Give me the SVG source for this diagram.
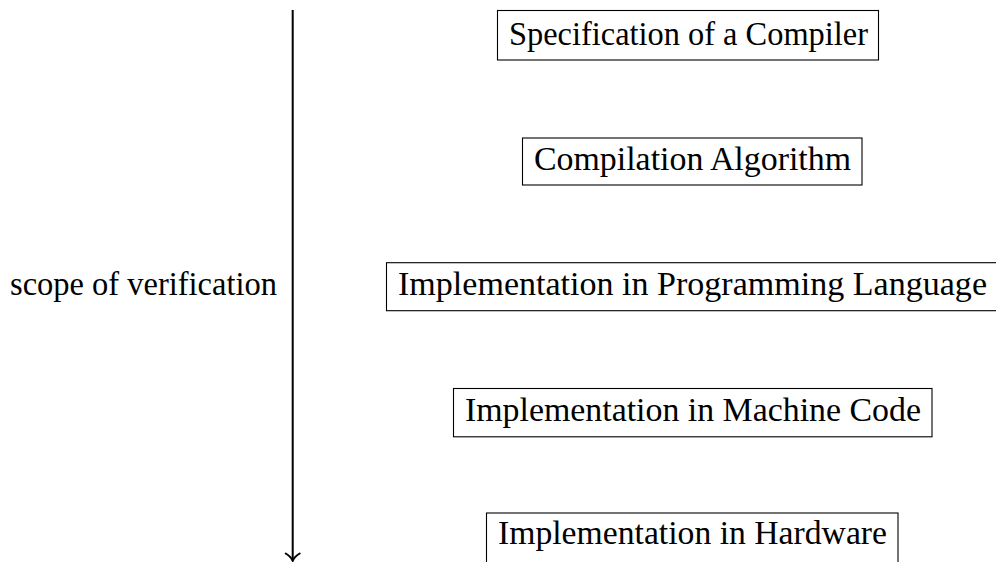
<svg xmlns="http://www.w3.org/2000/svg" width="996" height="562" viewBox="0 0 996 562">
  <style>
    .box { fill: #ffffff; stroke: #000000; stroke-width: 1.1; }
    .lbl { font-family: "Liberation Serif", "Times New Roman", Times, serif; font-size: 33px; fill: #000000; }
    .axis { fill: none; stroke: #000000; stroke-width: 2; }
  </style>
  <rect width="996" height="562" fill="#ffffff"/>

  <!-- vertical scope axis with arrow -->
  <g id="connectors">
    <line class="axis" x1="292.7" y1="10" x2="292.7" y2="560"/>
    <path class="axis" stroke-width="1.6" stroke-linecap="round" d="M285.7,553.5 Q291,556.5 292.7,561 M299.7,553.5 Q294.4,556.5 292.7,561"/>
  </g>

  <g id="scope-label">
    <text class="lbl" x="10" y="295" textLength="267" lengthAdjust="spacingAndGlyphs">scope of verification</text>
  </g>

  <g id="spec">
    <rect class="box" x="497.5" y="10.5" width="381" height="49.5"/>
    <text class="lbl" x="509" y="44.5" textLength="359" lengthAdjust="spacingAndGlyphs">Specification of a Compiler</text>
  </g>

  <g id="algorithm">
    <rect class="box" x="522.5" y="138" width="339.5" height="47"/>
    <text class="lbl" x="534" y="169.5" textLength="317" lengthAdjust="spacingAndGlyphs">Compilation Algorithm</text>
  </g>

  <g id="prog-lang">
    <rect class="box" x="386.5" y="262.7" width="612" height="48"/>
    <text class="lbl" x="398" y="295" textLength="589" lengthAdjust="spacingAndGlyphs">Implementation in Programming Language</text>
  </g>

  <g id="machine-code">
    <rect class="box" x="453.5" y="388.5" width="478.5" height="48.3"/>
    <text class="lbl" x="465" y="421" textLength="456" lengthAdjust="spacingAndGlyphs">Implementation in Machine Code</text>
  </g>

  <g id="hardware">
    <rect class="box" x="486.5" y="513" width="411.5" height="52"/>
    <text class="lbl" x="498" y="544" textLength="389" lengthAdjust="spacingAndGlyphs">Implementation in Hardware</text>
  </g>
</svg>
